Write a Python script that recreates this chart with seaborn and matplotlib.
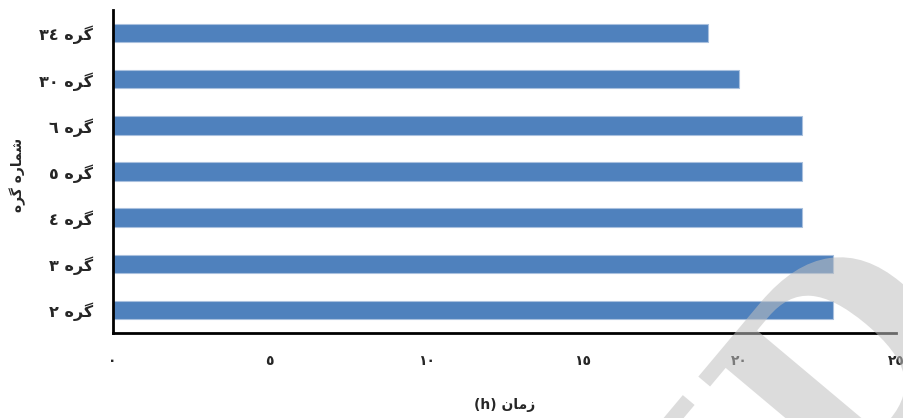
import numpy as np
import pandas as pd
import matplotlib
matplotlib.use('Agg')
import matplotlib.pyplot as plt
import seaborn as sns
from matplotlib.textpath import TextPath
from matplotlib.patches import PathPatch
from matplotlib.font_manager import FontProperties
from matplotlib.transforms import Affine2D

# Data (top to bottom)
node_numbers = ["٣٤", "٣٠", "٦", "٥", "٤", "٣", "٢"]
times = [19, 20, 22, 22, 22, 23, 23]
xtick_values = [0, 5, 10, 15, 20, 25]
xtick_labels = ["٠", "٥", "١٠", "١٥", "٢٠", "٢٥"]

# Persian words in visual (shaped, left-to-right) order
GRE = "\uFEE9\uFEAE\uFB94"                    # گره
SHOMARE = "\uFEE9\uFEAD\uFE8E\uFEE4\uFEB7"      # شماره
ZAMAN = "\uFEE5\uFE8E\uFEE3\uFEAF"              # زمان

labels = [n + " " + GRE for n in node_numbers]
ylabel = GRE + " " + SHOMARE
xlabel = "(h) " + ZAMAN

sns.set_style('white')
plt.rcParams['font.family'] = ['DejaVu Sans']

fig = plt.figure(figsize=(9.04, 4.18), dpi=100)
ax = fig.add_axes([0.1247, 0.2033, 0.8665, 0.7727])

df = pd.DataFrame({'node': labels, 'time': times})
sns.barplot(data=df, x='time', y='node', orient='h', color='#4F81BD',
            saturation=1, width=0.4, edgecolor='#a9c0de', linewidth=0.8, ax=ax)

ax.set_xlim(0, 25)
ax.set_ylim(6.5, -0.5)
ax.set_xticks(xtick_values)
ax.set_xticklabels(xtick_labels, fontweight='bold', fontsize=10)
for t in ax.get_yticklabels():
    t.set_fontweight('bold')
    t.set_fontsize(11.5)

for s in ['top', 'right']:
    ax.spines[s].set_visible(False)
for s in ['left', 'bottom']:
    ax.spines[s].set_color('black')
    ax.spines[s].set_linewidth(2)

ax.tick_params(axis='x', length=5, width=1, color='#555555', pad=10, direction='out')
ax.tick_params(axis='y', length=0, pad=14)

ax.set_xlabel(xlabel, fontweight='bold', fontsize=10, va='center')
ax.xaxis.set_label_coords(0.5, -0.223)
ax.set_ylabel(ylabel, fontweight='bold', fontsize=10, va='center')
ax.yaxis.set_label_coords(-0.121, 0.49)

# faint "SID" watermark
E = 260
ang = np.radians(50)
u = np.array([np.cos(ang), np.sin(ang)])
v = np.array([-np.sin(ang), np.cos(ang)])
fp = FontProperties(family='DejaVu Serif', weight='bold')
wm = TextPath((0, 0), "SID", size=1, prop=fp)
d_start = TextPath((0, 0), "SI", size=1, prop=fp).get_extents().x1 + 0.08
target = np.array([696, 418 - 379])
origin = target - E * (d_start * u + 0.73 * v)
M = np.array([[E * u[0], E * v[0], origin[0]],
              [E * u[1], E * v[1], origin[1]],
              [0, 0, 1]])
fig.add_artist(PathPatch(wm, transform=Affine2D(M), facecolor='#c0c0c0',
                         edgecolor='none', alpha=0.55, zorder=10))

plt.savefig('out.png', dpi=100)
